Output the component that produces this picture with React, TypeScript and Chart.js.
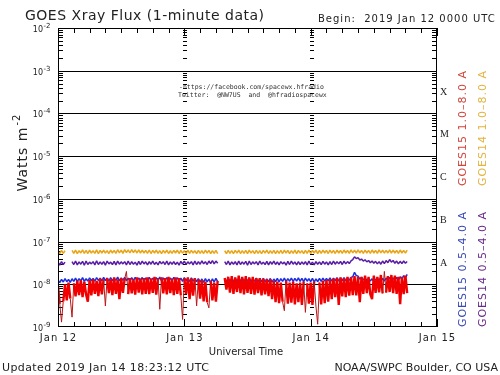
import { useEffect, useRef } from "react";
import { Chart, registerables } from "chart.js";

Chart.register(...registerables);

// ---- data (flux values in units of 1e-9 W m^-2, one sample every 20 minutes from 2019 Jan 12 00:00 UTC) ----
const UNIT = 1e-9;
const STEP_HOURS = 1 / 3;

const goes15Long: (number | null)[] = [
  9, 3.5, 1.3, 4, 10, 4.2, 11, 4.6, 1.7, 10.5,
  5.2, 12, 5.6, 12.5, 5.0, 11.5, 5.8, 3.9, 12.5, 5.5,
  13, 6.0, 12, 5.3, 13.5, 5.8, 13, 3.1, 14, 6.2,
  13, 5.6, 14.5, 6.0, 13, 4.5, 14, 6.3, 13.5, 20,
  5.9, 14, 6.1, 13, 5.7, 14.5, 6.4, 13.5, 5.8, 14,
  6.0, 14.5, 5.9, 13.5, 6.3, 15, 5.7, 14, 2.6, 14.5,
  6.1, 14, 5.8, 15, 6.2, 13.5, 5.6, 14.5, 6.0, 14,
  5.5, 1.5, 14, 5.9, 14.5, 4.5, 13.5, 5.4, 14, 3.1,
  13, 4.6, 12.5, 4.0, 11.5, 3.8, 2.8, 12, 4.2, 11,
  3.9, 12, null, null, null, 14, 7.5, 15, 6.4, 15.5,
  6.0, 14.5, 6.6, 16, 6.2, 15, 5.8, 15.5, 6.3, 14.5,
  6.0, 15, 5.7, 14, 6.2, 14, 5.5, 13.5, 5.8, 13,
  5.3, 13, 4.5, 12, 3.8, 11.5, 3.6, 11, 3.9, 2.4,
  12, 3.5, 11, 3.7, 11.5, 3.4, 10.5, 3.8, 11, 3.3,
  11.5, 2.2, 10.5, 3.5, 11, 3.3, 11.5, 3.1, 1.16, 11,
  3.4, 12, 3.6, 12.5, 3.9, 13, 4.5, 13.5, 5.0, 14,
  3.3, 14.5, 5.2, 14, 5.0, 15, 5.4, 14.5, 5.6, 15.5,
  5.5, 15, 3.8, 15, 6.0, 16, 6.2, 15, 5.8, 4.5,
  16, 6.3, 15, 6.5, 16.5, 6.1, 20, 6.4, 15.5, 6.6,
  16.5, 6.2, 16, 6.0, 15, 3.4, 15, 5.9, 16, 6.2,
];

const goes15Short: (number | null)[] = [
  12.5, 11, 13, 11.3, 13.5, 11.5, 13, 11.1, 13.5, 11.7,
  14, 11.5, 13.5, 12, 14.3, 11.7, 13.5, 11.9, 14.1, 12.1,
  13.7, 11.8, 14.3, 12.3, 13.9, 12, 14.5, 12.2, 14, 11.9,
  14.4, 12.1, 13.8, 12.4, 14.7, 12, 14.1, 12.3, 14.5, 12.1,
  13.9, 11.8, 14.3, 12.2, 14.6, 12, 14, 12.4, 14.4, 11.9,
  14.2, 12.1, 14.5, 12.3, 13.9, 12, 14.3, 12.2, 14.8, 11.9,
  14.1, 12.1, 14.4, 11.8, 14, 12.2, 14.5, 12, 14.2, 12.3,
  13.9, 11.7, 14.3, 12.1, 13.8, 11.6, 14.1, 11.9, 13.7, 11.5,
  13.5, 11.3, 13.3, 11.1, 13.6, 11.4, 13.2, 11, 13.4, 11.3,
  13.7, 11.6, null, null, null, 13.5, 11.6, 13.9, 11.8, 13.6,
  11.5, 14, 11.7, 13.8, 11.9, 14.2, 11.6, 13.7, 11.8, 14,
  11.5, 13.6, 11.7, 13.9, 11.4, 13.5, 11.6, 13.8, 11.3, 13.4,
  11.5, 13.7, 11.2, 13.3, 11.6, 13.8, 11.4, 13.5, 11.7, 13.9,
  11.5, 13.6, 11.8, 14, 11.6, 13.7, 11.9, 14.1, 11.7, 13.8,
  11.6, 13.9, 11.8, 13.5, 11.5, 13.7, 11.3, 13.4, 11.6, 13.8,
  11.7, 14, 11.9, 13.8, 12, 14.2, 11.8, 13.9, 12.1, 14.3,
  11.9, 14, 12.2, 14.4, 12, 14.1, 12.3, 14.5, 15, 19,
  16, 15.5, 13.2, 14.5, 12.6, 14, 12.3, 13.6, 12, 13.4,
  11.6, 13.2, 11.8, 13.5, 11.5, 13.8, 11.9, 14, 12.2, 14.5,
  12.4, 14.2, 12.1, 14.6, 12.5, 15, 13, 16, 14, 17,
];

const goes14Short: (number | null)[] = [
  33, 28, 34, 29, 33, null, null, null, 34, 29,
  35, 28.5, 33.5, 29.5, 34.5, 28, 35, 29, 33, 30,
  34, 28.5, 35.5, 29, 33.5, 29.5, 34, 28, 35, 30,
  33, 29, 34.5, 28.5, 35, 29.5, 33.5, 30, 34, 28.5,
  35, 29, 34, 29.5, 33, 28, 34.5, 29, 35, 30,
  33.5, 28.5, 34, 29.5, 35, 29, 33, 28.5, 34.5, 30,
  34, 29, 35, 28.5, 33.5, 29.5, 34, 29, 33, 28,
  34.5, 29.5, 35, 29, 33.5, 30, 34, 28.5, 35, 29,
  34, 29.5, 35.5, 30, 34, 29, 35, 30.5, 36, 30,
  35, 31, null, null, null, 34, 29, 35, 28.5, 33.5,
  29.5, 34, 28.5, 35, 29, 33.5, 29.5, 34.5, 28, 35,
  29, 33.5, 30, 34, 28.5, 35, 29.5, 33, 29, 34.5,
  28.5, 34, 29.5, 35, 29, 33.5, 28.5, 34, 30, 33,
  28, 34.5, 29, 35, 29.5, 33.5, 28.5, 34, 29, 33.5,
  29.5, 34, 28.5, 35, 29, 33, 28.5, 34, 29.5, 33.5,
  29, 34.5, 29.5, 33.5, 28.5, 34, 29, 35, 29.5, 34,
  30, 34.5, 29, 35, 30, 34, 30.5, 35.5, 38, 44,
  40, 42, 37, 39, 35, 37.5, 33.5, 36, 32, 35,
  31, 34.5, 30, 34, 29.5, 35, 30.5, 36, 32, 38,
  33, 36, 31, 35, 30, 34.5, 30.5, 35, 31, 34,
];

const goes14Long: (number | null)[] = [
  60, 52, 62, 53, 61, null, null, null, 62, 53,
  63, 52, 61, 54, 64, 53, 62, 52.5, 63, 54,
  61, 53, 64, 52, 62.5, 54, 63, 53.5, 61.5, 52.5,
  63, 54, 62, 53, 64.5, 54.5, 63, 53, 65, 55,
  64, 54, 65, 55.5, 63.5, 54, 64, 53.5, 63, 54,
  62, 53, 63.5, 52.5, 62, 54, 63, 53, 61.5, 52,
  62.5, 53.5, 63, 52.5, 61, 53, 62.5, 54, 63, 52.5,
  62, 53.5, 61.5, 52, 63, 53, 62, 54, 61, 52.5,
  62, 53, 61.5, 52.5, 63, 53.5, 62, 52, 61, 53,
  62.5, 52.5, null, null, null, 61, 52.5, 62.5, 53, 61.5,
  52, 62, 53.5, 63, 52.5, 61.5, 53, 62, 52, 63,
  53.5, 61.5, 52.5, 62.5, 53, 61, 52, 62, 53.5, 63,
  52.5, 61.5, 53, 62.5, 52, 61, 53, 62, 52.5, 63,
  53.5, 62.5, 52.5, 61.5, 53, 63, 52, 62, 53.5, 61.5,
  52.5, 62.5, 53, 63.5, 52.5, 62, 53.5, 63, 52, 62.5,
  53, 63, 54, 62, 52.5, 63.5, 53.5, 62, 52.5, 63,
  54, 62.5, 53, 63.5, 54, 62, 53, 64, 54.5, 63,
  53.5, 64, 54, 62.5, 53, 63, 54, 62, 53, 63.5,
  54, 62.5, 53, 64, 54.5, 63, 53.5, 62.5, 54, 64,
  53.5, 63, 54, 62.5, 53, 63.5, 54, 62, 53.5, 63,
];

// ---- axes / labels ----
const X_MIN_H = 0;
const X_MAX_H = 72;
const Y_MIN = 1e-9;
const Y_MAX = 1e-2;
const DAY_HOURS = [0, 24, 48, 72];
const DAY_LABELS = ["Jan 12", "Jan 13", "Jan 14", "Jan 15"];
const Y_EXPONENTS = [-2, -3, -4, -5, -6, -7, -8, -9];
const GRID_EXPONENTS = [-3, -4, -5, -6, -7, -8];
const CLASS_LABELS = ["X", "M", "C", "B", "A"];
const CLASS_EXPONENTS = [-3.5, -4.5, -5.5, -6.5, -7.5];
const INNER_DAY_HOURS = [24, 48];

const TITLE = "GOES Xray Flux (1-minute data)";
const BEGIN = "Begin:  2019 Jan 12 0000 UTC";
const X_TITLE = "Universal Time";
const UPDATED = "Updated 2019 Jan 14 18:23:12 UTC";
const SOURCE = "NOAA/SWPC Boulder, CO USA";
const WATERMARK1 = "-https://facebook.com/spacewx.hfradio";
const WATERMARK2 = "Twitter:  @NW7US  and  @hfradiospacewx";

// thresholds (W m^-2) beyond which a red segment is drawn as a thin dark spike
const SPIKE_LOW = 3.2e-9;
const SPIKE_HIGH = 1.8e-8;

const SERIES = [
  { label: "GOES15 1.0\u20138.0 A", data: goes15Long, color: "#f20000", text: "#d0453c", width: 2.4, spikes: true },
  { label: "GOES15 0.5\u20134.0 A", data: goes15Short, color: "#1c2ee0", text: "#3848b8", width: 1.5, spikes: false },
  { label: "GOES14 0.5\u20134.0 A", data: goes14Short, color: "#5a1ca4", text: "#6a2a8a", width: 1.5, spikes: false },
  { label: "GOES14 1.0\u20138.0 A", data: goes14Long, color: "#eaa514", text: "#e2b440", width: 1.5, spikes: false },
];

const toPoints = (arr: (number | null)[]) =>
  arr.map((v, i) => ({ x: i * STEP_HOURS, y: v === null ? null : v * UNIT }));

const isSpike = (c: any) => {
  const a = c.p0.parsed.y;
  const b = c.p1.parsed.y;
  return a < SPIKE_LOW || b < SPIKE_LOW || a > SPIKE_HIGH || b > SPIKE_HIGH;
};

const decor = {
  id: "decor",
  beforeDatasetsDraw(chart: any) {
    const { ctx, chartArea: a, scales } = chart;
    const xs = scales.x;
    const ys = scales.y;
    ctx.save();
    ctx.strokeStyle = "#000";
    ctx.lineWidth = 1;
    ctx.beginPath();
    for (const e of GRID_EXPONENTS) {
      const y = Math.round(ys.getPixelForValue(Math.pow(10, e))) + 0.5;
      ctx.moveTo(a.left, y);
      ctx.lineTo(a.right, y);
    }
    for (let e = -9; e < -2; e++) {
      for (let m = 2; m <= 9; m++) {
        const y = Math.round(ys.getPixelForValue(m * Math.pow(10, e))) + 0.5;
        ctx.moveTo(a.left, y);
        ctx.lineTo(a.left + 5, y);
        ctx.moveTo(a.right - 5, y);
        ctx.lineTo(a.right, y);
        for (const h of INNER_DAY_HOURS) {
          const x = Math.round(xs.getPixelForValue(h));
          ctx.moveTo(x - 1, y);
          ctx.lineTo(x + 3, y);
        }
      }
    }
    for (let h = X_MIN_H; h <= X_MAX_H; h += 3) {
      const x = Math.round(xs.getPixelForValue(h)) + 0.5;
      const len = h % 24 === 0 ? 8 : 5;
      ctx.moveTo(x, a.bottom);
      ctx.lineTo(x, a.bottom - len);
      ctx.moveTo(x, a.top);
      ctx.lineTo(x, a.top + len);
    }
    ctx.stroke();
    ctx.restore();
  },
  afterDatasetsDraw(chart: any) {
    const { ctx, chartArea: a, scales } = chart;
    const xs = scales.x;
    const ys = scales.y;
    ctx.save();
    ctx.strokeStyle = "#000";
    ctx.lineWidth = 1;
    ctx.strokeRect(a.left + 0.5, a.top + 0.5, a.right - a.left - 1, a.bottom - a.top - 1);

    const F = '"DejaVu Sans", sans-serif';
    ctx.fillStyle = "#222";
    ctx.textBaseline = "alphabetic";

    // title
    ctx.textAlign = "left";
    ctx.font = `14px ${F}`;
    (ctx as any).letterSpacing = "0.5px";
    ctx.fillText(TITLE, 25, 20);
    ctx.font = `10px ${F}`;
    (ctx as any).letterSpacing = "1px";
    ctx.fillText(BEGIN, 318, 22);

    // x labels
    ctx.textAlign = "center";
    for (let i = 0; i < DAY_HOURS.length; i++) {
      const x = xs.getPixelForValue(DAY_HOURS[i]);
      ctx.fillText(DAY_LABELS[i], x + 0.5, 341);
    }
    (ctx as any).letterSpacing = "0px";
    ctx.fillText(X_TITLE, 246, 355);

    // footer
    ctx.font = `11px ${F}`;
    ctx.textAlign = "left";
    (ctx as any).letterSpacing = "0.4px";
    ctx.fillText(UPDATED, 2, 371);
    (ctx as any).letterSpacing = "0px";
    ctx.textAlign = "right";
    ctx.fillText(SOURCE, 498, 371);

    // y tick labels
    for (const e of Y_EXPONENTS) {
      const y = ys.getPixelForValue(Math.pow(10, e));
      ctx.font = `8px ${F}`;
      ctx.textAlign = "right";
      ctx.fillText("10", 43, y + 4);
      ctx.font = `7px ${F}`;
      ctx.textAlign = "left";
      ctx.fillText(String(e), 43.5, y);
    }

    // class labels
    ctx.font = `10px "Liberation Serif", serif`;
    ctx.textAlign = "left";
    ctx.textBaseline = "middle";
    for (let i = 0; i < CLASS_LABELS.length; i++) {
      const y = ys.getPixelForValue(Math.pow(10, CLASS_EXPONENTS[i]));
      ctx.fillText(CLASS_LABELS[i], 440, y);
    }

    // watermark
    ctx.font = `6.5px "DejaVu Sans Mono", monospace`;
    ctx.textBaseline = "alphabetic";
    ctx.fillStyle = "#333";
    ctx.fillText(WATERMARK1, 179, 89);
    ctx.fillText(WATERMARK2, 178, 97);

    // y title (rotated)
    ctx.fillStyle = "#222";
    ctx.save();
    ctx.translate(27, 153);
    ctx.rotate(-Math.PI / 2);
    ctx.font = `14px ${F}`;
    (ctx as any).letterSpacing = "1px";
    const w1 = ctx.measureText("Watts m").width;
    ctx.font = `10px ${F}`;
    const w2 = ctx.measureText("-2").width;
    const start = -(w1 + w2) / 2;
    ctx.font = `14px ${F}`;
    ctx.textAlign = "left";
    ctx.fillText("Watts m", start, 0);
    ctx.font = `10px ${F}`;
    ctx.fillText("-2", start + w1 + 1, -7);
    ctx.restore();

    // right legends (rotated)
    const legendPos = [
      { x: 463, y: 128 },
      { x: 463, y: 269 },
      { x: 483, y: 269 },
      { x: 483, y: 128 },
    ];
    ctx.font = `11px ${F}`;
    (ctx as any).letterSpacing = "1px";
    for (let i = 0; i < SERIES.length; i++) {
      ctx.save();
      ctx.translate(legendPos[i].x, legendPos[i].y);
      ctx.rotate(-Math.PI / 2);
      ctx.textAlign = "center";
      ctx.textBaseline = "middle";
      ctx.fillStyle = SERIES[i].text;
      ctx.fillText(SERIES[i].label, 0, 0);
      ctx.restore();
    }
    (ctx as any).letterSpacing = "0px";
    ctx.restore();
  },
};

export default function App() {
  const ref = useRef<HTMLCanvasElement>(null);
  useEffect(() => {
    document.body.style.margin = "0";
    const canvas = ref.current!;
    const chart = new Chart(canvas, {
      type: "line",
      data: {
        datasets: SERIES.map((s) => ({
          label: s.label,
          data: toPoints(s.data) as any,
          borderColor: s.color,
          backgroundColor: s.color,
          borderWidth: s.width,
          pointRadius: 0,
          fill: false,
          tension: 0,
          spanGaps: false,
          borderJoinStyle: "bevel" as const,
          segment: s.spikes
            ? {
                borderWidth: (c: any) => (isSpike(c) ? 1 : undefined),
                borderColor: (c: any) => (isSpike(c) ? "#b81818" : undefined),
              }
            : undefined,
        })),
      },
      options: {
        responsive: false,
        devicePixelRatio: 1,
        animation: false,
        events: [],
        layout: { padding: { left: 58, top: 28, right: 63, bottom: 48 } },
        plugins: { legend: { display: false }, tooltip: { enabled: false }, title: { display: false } },
        scales: {
          x: { type: "linear", min: X_MIN_H, max: X_MAX_H, display: false },
          y: { type: "logarithmic", min: Y_MIN, max: Y_MAX, display: false },
        },
      },
      plugins: [decor],
    });
    return () => chart.destroy();
  }, []);
  return <canvas ref={ref} width={500} height={375} style={{ display: "block", width: 500, height: 375 }} />;
}
